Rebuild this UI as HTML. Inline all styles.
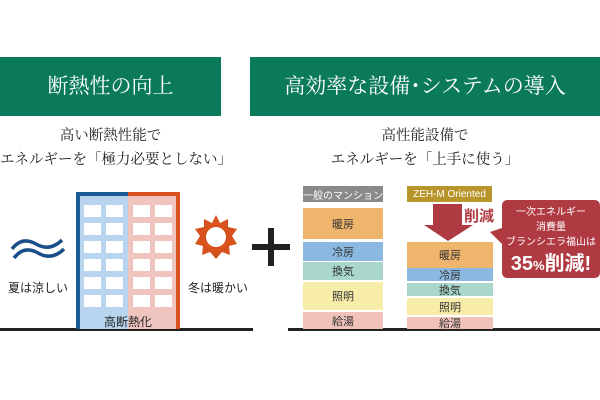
<!DOCTYPE html>
<html><head><meta charset="utf-8"><style>
body{margin:0;width:600px;height:400px;background:#fff;position:relative;overflow:hidden;font-family:"Liberation Sans","Noto Sans CJK JP",sans-serif}
.a{position:absolute}
.hd{background:#0b7a5b;color:#fff;font-family:"Liberation Serif","Noto Serif CJK SC",serif;font-size:21px;text-align:center;line-height:59px;top:57px;height:59px;white-space:nowrap}
.sub{font-family:"Liberation Serif","Noto Serif CJK SC",serif;font-size:14.5px;color:#222;text-align:center;line-height:24px;white-space:nowrap}
.blk{position:absolute;text-align:center;font-size:11px;color:#333;display:flex;align-items:center;justify-content:center}
.t{font-size:12px;color:#222}
</style></head><body>
<div class="a hd" style="left:0;width:221px">断熱性の向上</div>
<div class="a hd" style="left:250px;width:350px">高効率な設備･システムの導入</div>
<div class="a sub" style="left:0;width:221px;top:124px">高い断熱性能で<br>エネルギーを「極力必要としない」</div>
<div class="a sub" style="left:250px;width:350px;top:124px">高性能設備で<br>エネルギーを「上手に使う」</div>

<svg class="a" style="left:0;top:0" width="600" height="400">
<line x1="0" y1="329.5" x2="253" y2="329.5" stroke="#222" stroke-width="3"/>
<line x1="288" y1="329.5" x2="600" y2="329.5" stroke="#222" stroke-width="3"/>
<rect x="78" y="194" width="50" height="135" fill="#b8d4ee"/>
<rect x="128" y="194" width="50" height="135" fill="#f0c4be"/>
<path d="M78 329 V194 H128" fill="none" stroke="#1b5a96" stroke-width="4"/>
<path d="M128 194 H178 V329" fill="none" stroke="#d8521e" stroke-width="4"/>
<g fill="#fff">
<g id="r">
<rect x="84" y="205" width="17" height="12"/><rect x="106" y="205" width="17" height="12"/>
<rect x="133" y="205" width="17" height="12"/><rect x="155" y="205" width="17" height="12"/>
</g>
<use href="#r" y="18"/><use href="#r" y="36"/><use href="#r" y="54"/><use href="#r" y="72"/><use href="#r" y="90"/>
</g>
<text x="128" y="326" font-size="12" text-anchor="middle" fill="#222" font-family="Liberation Sans,Noto Sans CJK JP,sans-serif">高断熱化</text>
<g fill="none" stroke="#1b4f8a" stroke-width="3.5">
<path d="M12 249 Q22 236 36 244 T62 240"/>
<path d="M14 258 Q24 245 38 253 T64 249"/>
</g>
<g transform="translate(216,237)" fill="#d8521e">
<polygon points="0,-22 4,-14 12,-18 12,-10 21,-8 16,-1 21,7 13,9 14,18 6,15 0,22 -6,15 -14,18 -13,9 -21,7 -16,-1 -21,-8 -12,-10 -12,-18 -4,-14"/>
<circle r="10" fill="#fff"/>
</g>
<rect x="252" y="244" width="38" height="6" fill="#222"/>
<rect x="268" y="228" width="6" height="38" fill="#222"/>
<polygon points="433,204 462,204 462,225 473,225 448,241 424,225 433,225" fill="#b03a42"/>
<path d="M508 200 H594 Q600 200 600 206 V272 Q600 278 594 278 H508 Q502 278 502 272 V244 L490 232 L502 228 V206 Q502 200 508 200Z" fill="#b03a42"/>
</svg>
<div class="a t" style="left:8px;top:279px">夏は涼しい</div>
<div class="a t" style="left:188px;top:279px">冬は暖かい</div>

<div class="blk" style="left:303px;top:186px;width:80px;height:16px;background:#8a8a8a;color:#fff;font-size:10px">一般のマンション</div>
<div class="blk" style="left:303px;top:208px;width:80px;height:31px;background:#efb56c">暖房</div>
<div class="blk" style="left:303px;top:242px;width:80px;height:19px;background:#8cb9e2">冷房</div>
<div class="blk" style="left:303px;top:262px;width:80px;height:18px;background:#a9d7cb">換気</div>
<div class="blk" style="left:303px;top:282px;width:80px;height:28px;background:#f7eda9">照明</div>
<div class="blk" style="left:303px;top:312px;width:80px;height:17px;background:#f0c2ba">給湯</div>

<div class="blk" style="left:407px;top:186px;width:85px;height:16px;background:#b8952a;color:#fff;font-size:10px">ZEH-M Oriented</div>
<div class="a" style="left:464px;top:205px;font-size:15px;font-weight:bold;color:#b03a42">削減</div>
<div class="blk" style="left:407px;top:242px;width:86px;height:26px;background:#efb56c">暖房</div>
<div class="blk" style="left:407px;top:268px;width:86px;height:13px;background:#8cb9e2">冷房</div>
<div class="blk" style="left:407px;top:283px;width:86px;height:13px;background:#a9d7cb">換気</div>
<div class="blk" style="left:407px;top:298px;width:86px;height:17px;background:#f7eda9">照明</div>
<div class="blk" style="left:407px;top:317px;width:86px;height:12px;background:#f0c2ba">給湯</div>

<div class="a" style="left:502px;top:205px;width:98px;text-align:center;color:#fff;font-size:10px;line-height:15px;white-space:nowrap">一次エネルギー<br>消費量<br>ブランシエラ福山は</div>
<div class="a" style="left:502px;top:252px;width:98px;text-align:center;color:#fff;font-weight:bold;font-size:20px;line-height:24px;white-space:nowrap">35<span style="font-size:13px">%</span>削減!</div>
</body></html>
